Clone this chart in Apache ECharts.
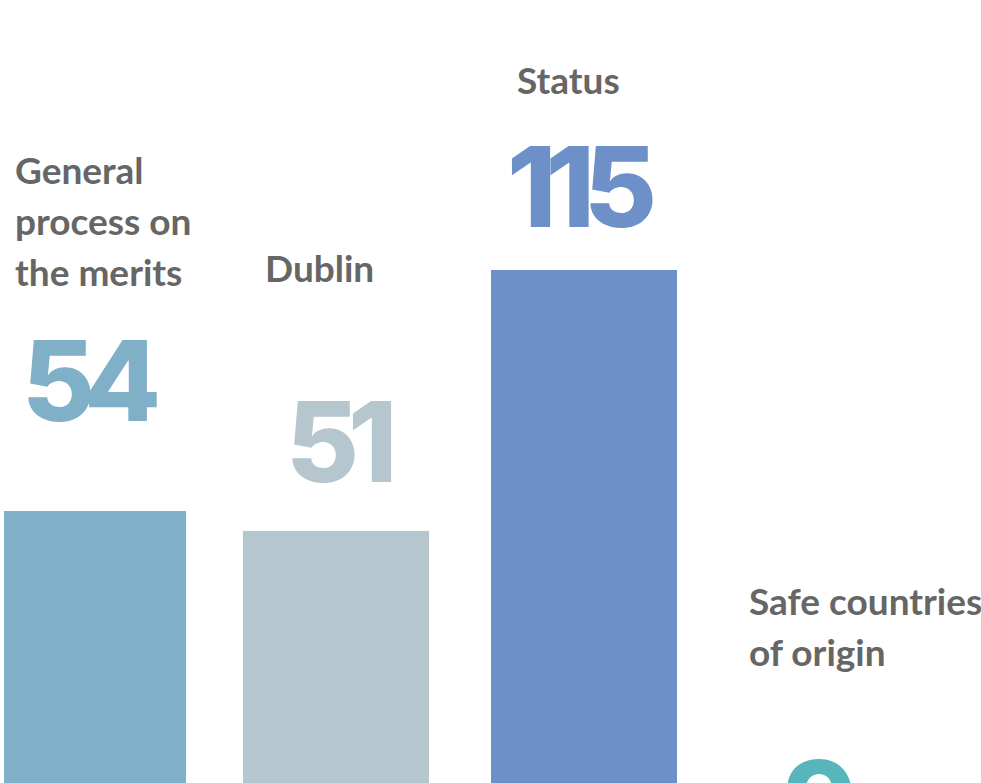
<!DOCTYPE html>
<html>
<head>
<meta charset="utf-8">
<title>Cases by topic</title>
<script src="https://cdn.jsdelivr.net/npm/echarts@6/dist/echarts.min.js"></script>
<style>
    html, body { margin: 0; padding: 0; background: #fff; overflow: hidden; }
    #chart { width: 981px; height: 783px; }
    /* the big numbers are set tight, digits nearly touch */
    #chart text[style*="112px"] { letter-spacing: -11px; }
</style>
</head>
<body>
<div id="chart"></div>
<script>
var categories = ['General\nprocess on\nthe merits', 'Dublin', 'Status', 'Safe countries\nof origin'];
var counts = [54, 51, 115, 9];
// drawn bar height above the page bottom (the baseline is cut off)
var barHeights = [272, 252, 513];
var colors = ['#7fb0c8', '#b5c6ce', '#6d90c9', '#56b6bc'];

// layout, in page pixels
var barBoxes = [[4, 182], [243, 186], [491, 186]];
var nameSpots = [[15, 144], [265, 242], [517, 54], [749, 575]];
var countSpots = [[22, 324], [286, 385], [507, 130], [783, 745]];

var chart = echarts.init(document.getElementById('chart'), null, { renderer: 'svg' });

var grids = [], xAxes = [], yAxes = [], series = [];
barBoxes.forEach(function (box, i) {
    grids.push({ left: box[0], width: box[1], top: 0, bottom: 0 });
    xAxes.push({ type: 'category', gridIndex: i, data: [categories[i]], show: false });
    yAxes.push({ type: 'value', gridIndex: i, min: 0, max: 783, show: false });
    series.push({
        type: 'bar',
        xAxisIndex: i,
        yAxisIndex: i,
        barWidth: '100%',
        silent: true,
        animation: false,
        itemStyle: { color: colors[i] },
        data: [barHeights[i]]
    });
});

var texts = [];
categories.forEach(function (name, i) {
    texts.push({
        type: 'text',
        x: nameSpots[i][0],
        y: nameSpots[i][1],
        silent: true,
        style: {
            text: name,
            fill: '#666666',
            font: '700 37px Lato',
            lineHeight: 51,
            textAlign: 'left',
            textVerticalAlign: 'top'
        }
    });
    texts.push({
        type: 'text',
        x: countSpots[i][0],
        y: countSpots[i][1],
        silent: true,
        style: {
            text: String(counts[i]),
            fill: colors[i],
            font: '800 112px Inter',
            textAlign: 'left',
            textVerticalAlign: 'top'
        }
    });
});

chart.setOption({
    backgroundColor: '#ffffff',
    animation: false,
    tooltip: { show: false },
    grid: grids,
    xAxis: xAxes,
    yAxis: yAxes,
    series: series,
    graphic: { elements: texts }
});
</script>
</body>
</html>
